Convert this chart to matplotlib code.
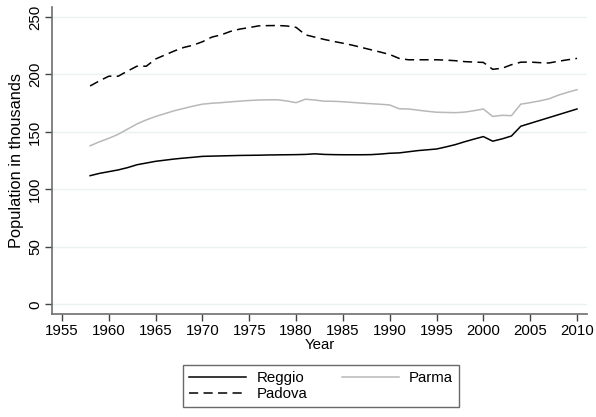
import numpy as np
import matplotlib.pyplot as plt
from matplotlib.lines import Line2D

plt.rcParams['font.family'] = ['Liberation Sans', 'DejaVu Sans']

# Data (population in thousands)
years = list(range(1958, 2011))
reggio = [112, 114, 115.5, 117, 119, 121.5, 123, 124.5, 125.5, 126.5,
          127.3, 128, 128.8, 129, 129.2, 129.4, 129.6, 129.7, 129.8, 130,
          130.1, 130.2, 130.3, 130.5, 131, 130.5, 130.3, 130.2, 130.2, 130.2,
          130.3, 130.8, 131.5, 131.8, 132.8, 133.8, 134.5, 135.2, 137, 139,
          141.5, 143.8, 146, 142, 144, 146.5, 155, 157.5, 160, 162.5,
          165, 167.5, 170]
parma = [138, 141.5, 144.5, 148, 152.5, 157, 160.5, 163.5, 166, 168.5,
         170.5, 172.5, 174.2, 175, 175.5, 176.2, 176.8, 177.4, 177.8, 178,
         178, 177, 175.5, 178.5, 177.8, 176.8, 176.7, 176.3, 175.7, 175.1,
         174.6, 174.1, 173.5, 170.2, 170, 169, 168, 167.2, 167, 166.8,
         167.3, 168.5, 170, 163.5, 164.5, 164.2, 174.2, 175.5, 177, 178.8,
         182, 184.5, 186.8]
padova = [190, 194.5, 198.5, 198.5, 203, 207.2, 207.2, 213.5, 217, 220.5,
          223.5, 225.5, 228.5, 232.5, 234.5, 237.5, 239.5, 240.8, 242.3, 242.5,
          242.6, 242.2, 241, 234.5, 232.5, 230.5, 228.8, 227.2, 225.5, 223.5,
          221.5, 219.5, 217.4, 214, 212.8, 212.8, 212.8, 212.8, 212.5, 212,
          211.2, 210.8, 210.5, 204.5, 205.4, 208.5, 210.7, 210.8, 210.3, 210,
          211.5, 212.8, 214]

xticks = list(range(1955, 2011, 5))
yticks = [0, 50, 100, 150, 200, 250]

fs = 10.8

fig = plt.figure(figsize=(5.96, 4.17), dpi=100)
ax = fig.add_axes([52 / 596, 1 - 314 / 417, 535 / 596, 307 / 417])

for y in yticks:
    ax.axhline(y, color='#eaf2f3', lw=1, zorder=0)

l1, = ax.plot(years, reggio, color='black', lw=1.1, label='Reggio')
l2, = ax.plot(years, parma, color='#b8b8b8', lw=1.1, label='Parma')
l3, = ax.plot(years, padova, color='black', lw=1.1, ls=(0, (6, 3.5)), label='Padova')

ax.set_xlim(1953.93, 2011.07)
ax.set_ylim(-8.3, 258.7)
ax.set_xticks(xticks)
ax.set_yticks(yticks)
ax.set_yticklabels([str(v) for v in yticks], rotation=90, va='center')

for s in ['top', 'right']:
    ax.spines[s].set_visible(False)
for s in ['left', 'bottom']:
    ax.spines[s].set_color('#6e6e6e')
    ax.spines[s].set_linewidth(1.2)
ax.tick_params(colors='#444444', labelcolor='black', labelsize=fs, length=5, width=1, pad=2)

ax.set_xlabel('Year', fontsize=fs, labelpad=0)
ax.set_ylabel('Population in thousands', fontsize=11.8, labelpad=3)

leg = fig.legend(handles=[l1, l3, l2], loc='upper left',
                 bbox_to_anchor=(183 / 596, 1 - 365 / 417),
                 ncol=2, fontsize=fs, frameon=True,
                 fancybox=False, handlelength=3.8, borderaxespad=0,
                 borderpad=0.4, labelspacing=0.15, columnspacing=2.3,
                 handletextpad=0.7)
leg.get_frame().set_edgecolor('#444444')
leg.get_frame().set_linewidth(1)

fig.savefig('out.png', dpi=100)
